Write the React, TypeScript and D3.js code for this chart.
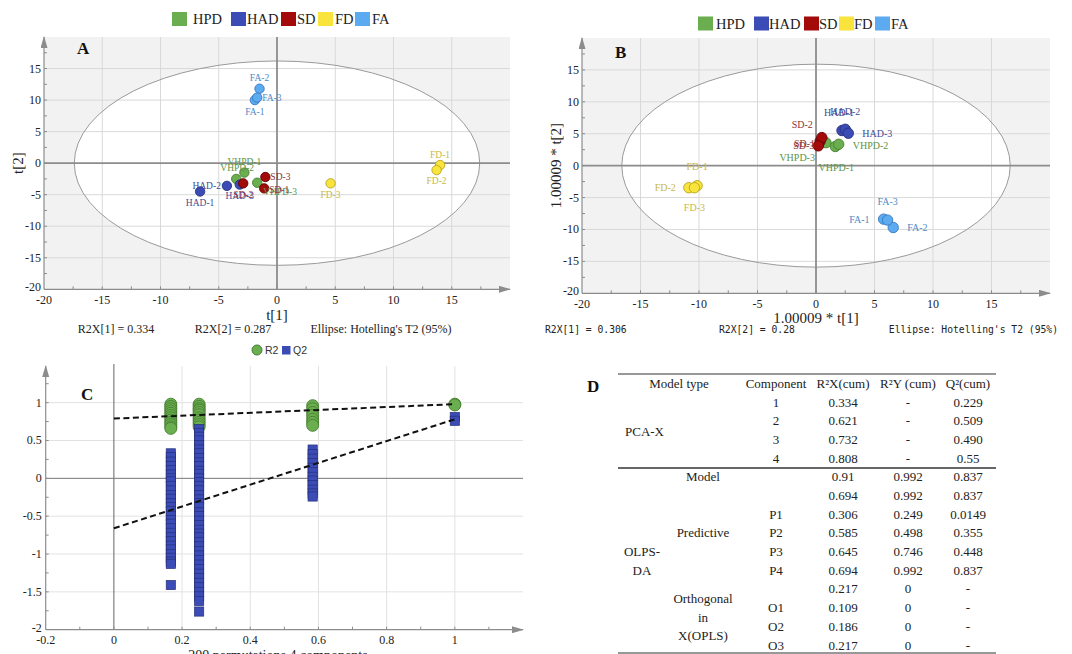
import React, { useRef, useEffect } from 'react';
import * as d3 from 'd3';

const W = 1072;
const H = 654;
const SERIF = '"Liberation Serif", "Times New Roman", serif';
const SANS = '"Liberation Sans", Arial, sans-serif';
const MONO = '"DejaVu Sans Mono", "Liberation Mono", monospace';

// groups (legend order)
const groupNames = ['HPD', 'HAD', 'SD', 'FD', 'FA'];
const groupFill = ['#6aae4f', '#3b4cb6', '#a30b0b', '#f8e43d', '#5caaf0'];
const groupStroke = ['#477f31', '#27327f', '#620202', '#b9a41e', '#3879bd'];
const groupText = ['#5c9444', '#3f4b94', '#903131', '#c9b845', '#4f89c7'];

// samples, shared by A and B
const sampleNames = ['VHPD-1', 'VHPD-2', 'VHPD-3', 'HAD-1', 'HAD-2', 'HAD-3', 'SD-1', 'SD-2', 'SD-3', 'FD-1', 'FD-2', 'FD-3', 'FA-1', 'FA-2', 'FA-3'];
const sampleGroup = [0, 0, 0, 1, 1, 1, 2, 2, 2, 3, 3, 3, 4, 4, 4];

// A: PCA-X scores
const pcaT1 = [-2.8, -3.5, -1.7, -6.6, -4.3, -3.2, -1.1, -2.9, -1.0, 14.0, 13.7, 4.6, -1.9, -1.5, -1.7];
const pcaT2 = [-1.5, -2.5, -3.1, -4.5, -3.6, -3.4, -4.0, -3.2, -2.2, -0.3, -1.1, -3.2, 10.0, 11.8, 10.4];
const pcaEllipse = [17.4, 16.2];
const pcaFooter = ['R2X[1] = 0.334', 'R2X[2] = 0.287', "Ellipse: Hotelling's T2 (95%)"];

// B: OPLS-DA scores
const oplsT1 = [1.65, 1.94, 0.85, 2.22, 2.5, 2.76, 0.35, 0.5, 0.2, -10.16, -10.87, -10.39, 5.78, 6.6, 6.12];
const oplsT2 = [3.0, 3.35, 3.6, 5.5, 5.7, 5.08, 3.8, 4.4, 3.1, -3.14, -3.46, -3.46, -8.38, -9.69, -8.53];
const oplsEllipse = [16.6, 15.9];
const oplsFooter = ['R2X[1] = 0.306', 'R2X[2] = 0.28', "Ellipse: Hotelling's T2 (95%)"];

const scoreTicks = [-20, -15, -10, -5, 0, 5, 10, 15];

// C: permutation test (200 permutations, 4 components)
const permCorr = [0.167, 0.25, 0.583, 1];
const permR2 = [
  [0.98, 0.95, 0.92, 0.89, 0.86, 0.83, 0.8, 0.77, 0.74, 0.71, 0.68, 0.66],
  [0.98, 0.95, 0.92, 0.9, 0.87, 0.84, 0.8, 0.77, 0.74, 0.71, 0.68],
  [0.96, 0.92, 0.87, 0.83, 0.78, 0.74, 0.7],
  [0.98, 0.97],
];
const permQ2 = [
  [0.33, 0.28, 0.22, 0.16, 0.11, 0.05, 0.0, -0.04, -0.1, -0.16, -0.22, -0.27, -0.33, -0.38, -0.43, -0.5, -0.55, -0.6, -0.66, -0.72, -0.78, -0.83, -0.89, -0.94, -1.0, -1.05, -1.1, -1.13, -1.41],
  [0.65, 0.6, 0.55, 0.5, 0.44, 0.38, 0.33, 0.27, 0.21, 0.16, 0.1, 0.06, 0.0, -0.05, -0.1, -0.16, -0.22, -0.28, -0.33, -0.38, -0.45, -0.5, -0.56, -0.62, -0.68, -0.73, -0.78, -0.84, -0.9, -0.96, -1.02, -1.08, -1.14, -1.2, -1.26, -1.32, -1.38, -1.44, -1.5, -1.56, -1.62, -1.76],
  [0.38, 0.32, 0.26, 0.2, 0.14, 0.08, 0.02, -0.03, -0.09, -0.15, -0.2, -0.24],
  [0.81, 0.76],
];
const r2Fit = [0.79, 0.98]; // at corr 0 and 1
const q2Fit = [-0.66, 0.78];
const permXTicks = [-0.2, 0, 0.2, 0.4, 0.6, 0.8, 1];
const permYTicks = [1, 0.5, 0, -0.5, -1, -1.5, -2];

// D: model summary table
const tableHeader = ['Model type', 'Component', 'R²X(cum)', 'R²Y (cum)', 'Q²(cum)'];
const tableComponent = ['1', '2', '3', '4', '', '', 'P1', 'P2', 'P3', 'P4', '', 'O1', 'O2', 'O3'];
const tableR2X = ['0.334', '0.621', '0.732', '0.808', '0.91', '0.694', '0.306', '0.585', '0.645', '0.694', '0.217', '0.109', '0.186', '0.217'];
const tableR2Y = ['-', '-', '-', '-', '0.992', '0.992', '0.249', '0.498', '0.746', '0.992', '0', '0', '0', '0'];
const tableQ2 = ['0.229', '0.509', '0.490', '0.55', '0.837', '0.837', '0.0149', '0.355', '0.448', '0.837', '-', '-', '-', '-'];

// label placement [dx, dy, anchor] in px, per sample
type Off = [number, number, string];
const labelOffA: Off[] = [
  [0, -11, 'middle'], [1, -11, 'middle'], [6, 9, 'start'],
  [0, 11, 'middle'], [-6, 0, 'end'], [0, 11, 'middle'],
  [5, 1, 'start'], [0, 11, 'middle'], [5, 0, 'start'],
  [0, -10, 'middle'], [0, 11, 'middle'], [0, 11, 'middle'],
  [0, 12, 'middle'], [0, -11, 'middle'], [5, 0, 'start'],
];
const labelOffB: Off[] = [
  [1, 21, 'middle'], [14, 1, 'start'], [-11, 15, 'end'],
  [-3, -18, 'middle'], [0, -18, 'middle'], [14, 0, 'start'],
  [-5, 2, 'end'], [-9, -13, 'end'], [-4, 0, 'end'],
  [0, -19, 'middle'], [-13, 0, 'end'], [0, 20, 'middle'],
  [-14, 0, 'end'], [14, 0, 'start'], [0, -19, 'middle'],
];

type G = d3.Selection<SVGGElement, unknown, null, undefined>;
const AXIS = '#8c8c8c';

const drawScores = (
  g: G,
  x: d3.ScaleLinear<number, number>,
  y: d3.ScaleLinear<number, number>,
  t1: number[],
  t2: number[],
  ell: number[],
  offs: Off[],
  r: number,
  fs: number,
) => {
  const [xl, xr] = x.range();
  const [yb, yt] = y.range();
  g.append('rect').attr('x', xl).attr('y', yt).attr('width', xr - xl).attr('height', yb - yt).attr('fill', '#f2f2f2');
  g.append('ellipse').attr('cx', x(0)).attr('cy', y(0))
    .attr('rx', x(ell[0]) - x(0)).attr('ry', y(0) - y(ell[1])).attr('fill', '#fff');

  const grid = scoreTicks.filter(d => d !== 0 && d !== -20);
  g.selectAll(null).data(grid).enter().append('line')
    .attr('x1', d => x(d)).attr('x2', d => x(d)).attr('y1', yt).attr('y2', yb)
    .attr('stroke', '#d9d9d9').attr('stroke-width', 1);
  g.selectAll(null).data(grid).enter().append('line')
    .attr('x1', xl).attr('x2', xr).attr('y1', d => y(d)).attr('y2', d => y(d))
    .attr('stroke', '#d9d9d9').attr('stroke-width', 1);

  g.append('ellipse').attr('cx', x(0)).attr('cy', y(0))
    .attr('rx', x(ell[0]) - x(0)).attr('ry', y(0) - y(ell[1]))
    .attr('fill', 'none').attr('stroke', '#9a9a9a').attr('stroke-width', 1);

  // zero lines
  g.append('line').attr('x1', x(0)).attr('x2', x(0)).attr('y1', yt).attr('y2', yb).attr('stroke', AXIS).attr('stroke-width', 1.8);
  g.append('line').attr('x1', xl).attr('x2', xr).attr('y1', y(0)).attr('y2', y(0)).attr('stroke', AXIS).attr('stroke-width', 1.8);

  // axes with arrows
  g.append('line').attr('x1', xl).attr('x2', xl).attr('y1', yb).attr('y2', yt)
    .attr('stroke', AXIS).attr('stroke-width', 1.2).attr('marker-end', 'url(#arr)');
  g.append('line').attr('x1', xl).attr('x2', xr).attr('y1', yb).attr('y2', yb)
    .attr('stroke', AXIS).attr('stroke-width', 1.2).attr('marker-end', 'url(#arr)');

  const minor = d3.range(-17.5, 18, 2.5);
  g.selectAll(null).data(minor).enter().append('line')
    .attr('x1', d => x(d)).attr('x2', d => x(d)).attr('y1', yb).attr('y2', yb - 3)
    .attr('stroke', AXIS);
  g.selectAll(null).data(minor).enter().append('line')
    .attr('x1', xl).attr('x2', xl + 3).attr('y1', d => y(d)).attr('y2', d => y(d))
    .attr('stroke', AXIS);

  // tick labels
  g.selectAll(null).data(scoreTicks).enter().append('text')
    .attr('x', d => x(d)).attr('y', yb + 15)
    .attr('text-anchor', 'middle').attr('font-family', SERIF).attr('font-size', 12).attr('fill', '#222')
    .text(d => d);
  g.selectAll(null).data(scoreTicks).enter().append('text')
    .attr('x', xl - 3).attr('y', d => y(d) + (d === -20 ? 2 : 4))
    .attr('text-anchor', 'end').attr('font-family', SERIF).attr('font-size', 12).attr('fill', '#222')
    .text(d => d);

  // points
  const idx = d3.range(t1.length);
  g.selectAll(null).data(idx).enter().append('circle')
    .attr('cx', i => x(t1[i])).attr('cy', i => y(t2[i])).attr('r', r)
    .attr('fill', i => groupFill[sampleGroup[i]])
    .attr('stroke', i => groupStroke[sampleGroup[i]]).attr('stroke-width', 0.9);

  g.selectAll(null).data(idx).enter().append('text')
    .attr('x', i => x(t1[i]) + offs[i][0]).attr('y', i => y(t2[i]) + offs[i][1])
    .attr('dy', '0.35em')
    .attr('text-anchor', i => offs[i][2])
    .attr('font-family', SERIF).attr('font-size', fs)
    .attr('fill', i => groupText[sampleGroup[i]])
    .text(i => sampleNames[i]);
};

const drawLegend = (g: G, boxX: number[], textX: number[], cy: number) => {
  groupNames.forEach((name, i) => {
    g.append('rect').attr('x', boxX[i]).attr('y', cy - 7).attr('width', 15).attr('height', 14).attr('fill', groupFill[i]);
    g.append('text').attr('x', textX[i]).attr('y', cy + 5)
      .attr('font-family', SERIF).attr('font-size', 14.5).attr('fill', '#222').text(name);
  });
};

const App: React.FC = () => {
  const svgRef = useRef<SVGSVGElement>(null);

  useEffect(() => {
    if (!svgRef.current) return;
    const svg = d3.select(svgRef.current);
    svg.selectAll('*').remove();
    svg.append('rect').attr('width', W).attr('height', H).attr('fill', '#fff');

    svg.append('defs').append('marker')
      .attr('id', 'arr').attr('markerUnits', 'userSpaceOnUse')
      .attr('viewBox', '0 0 12 7').attr('markerWidth', 12).attr('markerHeight', 7)
      .attr('refX', 11).attr('refY', 3.5).attr('orient', 'auto')
      .append('path').attr('d', 'M0,0L12,3.5L0,7Z').attr('fill', AXIS);

    // ---------- Panel A ----------
    const gA = svg.append('g');
    const xA = d3.scaleLinear().domain([-20, 20]).range([44, 510]);
    const yA = d3.scaleLinear().domain([-20, 20]).range([289.3, 37]);
    drawLegend(gA, [172, 231, 281, 318, 355], [193, 247, 297, 335, 372], 19);
    drawScores(gA, xA, yA, pcaT1, pcaT2, pcaEllipse, labelOffA, 4.7, 9.5);
    gA.append('text').attr('x', 77).attr('y', 54).attr('font-family', SERIF).attr('font-weight', 'bold')
      .attr('font-size', 17).attr('fill', '#111').text('A');
    gA.append('text').attr('x', xA(0)).attr('y', 320).attr('text-anchor', 'middle')
      .attr('font-family', SERIF).attr('font-size', 15).attr('fill', '#222').text('t[1]');
    gA.append('text').attr('transform', `translate(23,${yA(0)}) rotate(-90)`).attr('text-anchor', 'middle')
      .attr('font-family', SERIF).attr('font-size', 15).attr('fill', '#222').text('t[2]');
    [116, 233, 381].forEach((cx, i) => {
      gA.append('text').attr('x', cx).attr('y', 333).attr('text-anchor', 'middle')
        .attr('font-family', SERIF).attr('font-size', 12).attr('fill', '#222').text(pcaFooter[i]);
    });

    // ---------- Panel B ----------
    const gB = svg.append('g');
    const xB = d3.scaleLinear().domain([-20, 20]).range([582, 1050]);
    const yB = d3.scaleLinear().domain([-20, 20]).range([293.3, 38]);
    drawLegend(gB, [698, 754, 804, 839, 875], [716, 769, 819, 854, 891], 23.5);
    drawScores(gB, xB, yB, oplsT1, oplsT2, oplsEllipse, labelOffB, 5.2, 10);
    gB.append('text').attr('x', 615).attr('y', 58).attr('font-family', SERIF).attr('font-weight', 'bold')
      .attr('font-size', 17).attr('fill', '#111').text('B');
    gB.append('text').attr('x', xB(0)).attr('y', 323).attr('text-anchor', 'middle')
      .attr('font-family', SERIF).attr('font-size', 15).attr('fill', '#222').text('1.00009 * t[1]');
    gB.append('text').attr('transform', `translate(561,${yB(0)}) rotate(-90)`).attr('text-anchor', 'middle')
      .attr('font-family', SERIF).attr('font-size', 15).attr('fill', '#222').text('1.00009 * t[2]');
    gB.append('text').attr('x', 545).attr('y', 333).attr('font-family', MONO).attr('font-size', 9.7)
      .attr('fill', '#222').text(oplsFooter[0]);
    gB.append('text').attr('x', 719).attr('y', 333).attr('font-family', MONO).attr('font-size', 9.7)
      .attr('fill', '#222').text(oplsFooter[1]);
    gB.append('text').attr('x', 1058).attr('y', 333).attr('text-anchor', 'end').attr('font-family', MONO)
      .attr('font-size', 9.7).attr('fill', '#222').text(oplsFooter[2]);

    // ---------- Panel C ----------
    const gC = svg.append('g');
    const xC = d3.scaleLinear().domain([-0.2, 1.2]).range([45.7, 523]);
    const yC = d3.scaleLinear().domain([-2, 1.5]).range([629.7, 364.8]);
    const [cl, cr] = xC.range();
    const [cb] = yC.range();
    const ctop = 366;

    gC.selectAll(null).data(permXTicks.filter(d => d > 0)).enter().append('line')
      .attr('x1', d => xC(d)).attr('x2', d => xC(d)).attr('y1', ctop).attr('y2', cb)
      .attr('stroke', '#e2e2e2');
    gC.selectAll(null).data(permYTicks.filter(d => d !== 0 && d !== -2)).enter().append('line')
      .attr('x1', cl).attr('x2', cr).attr('y1', d => yC(d)).attr('y2', d => yC(d))
      .attr('stroke', '#e2e2e2');
    gC.append('line').attr('x1', xC(0)).attr('x2', xC(0)).attr('y1', 364).attr('y2', cb).attr('stroke', '#666');
    gC.append('line').attr('x1', cl).attr('x2', cr).attr('y1', yC(0)).attr('y2', yC(0)).attr('stroke', '#777');
    gC.append('line').attr('x1', cl).attr('x2', cl).attr('y1', cb).attr('y2', ctop)
      .attr('stroke', AXIS).attr('stroke-width', 1.2).attr('marker-end', 'url(#arr)');
    gC.append('line').attr('x1', cl).attr('x2', cr).attr('y1', cb).attr('y2', cb)
      .attr('stroke', AXIS).attr('stroke-width', 1.2).attr('marker-end', 'url(#arr)');
    gC.selectAll(null).data(d3.range(-0.1, 1.15, 0.1)).enter().append('line')
      .attr('x1', d => xC(d)).attr('x2', d => xC(d)).attr('y1', cb).attr('y2', cb - 3).attr('stroke', AXIS);
    gC.selectAll(null).data(d3.range(-1.75, 1.4, 0.25)).enter().append('line')
      .attr('x1', cl).attr('x2', cl + 3).attr('y1', d => yC(d)).attr('y2', d => yC(d)).attr('stroke', AXIS);

    gC.selectAll(null).data(permXTicks).enter().append('text')
      .attr('x', d => xC(d)).attr('y', cb + 14).attr('text-anchor', 'middle')
      .attr('font-family', SERIF).attr('font-size', 12).attr('fill', '#222').text(d => d);
    gC.selectAll(null).data(permYTicks).enter().append('text')
      .attr('x', cl - 4).attr('y', d => yC(d) + (d === -2 ? 2 : 4)).attr('text-anchor', 'end')
      .attr('font-family', SERIF).attr('font-size', 12).attr('fill', '#222').text(d => d);

    const r2Pts = permCorr.flatMap((c, i) => permR2[i].map(v => [c, v]));
    const q2Pts = permCorr.flatMap((c, i) => permQ2[i].map(v => [c, v]));
    gC.selectAll(null).data(r2Pts).enter().append('circle')
      .attr('cx', d => xC(d[0])).attr('cy', d => yC(d[1])).attr('r', 6)
      .attr('fill', '#6aae4f').attr('stroke', '#477f31').attr('stroke-width', 0.9);
    gC.selectAll(null).data(q2Pts).enter().append('rect')
      .attr('x', d => xC(d[0]) - 4.6).attr('y', d => yC(d[1]) - 4.6).attr('width', 9.2).attr('height', 9.2)
      .attr('fill', '#3b4cb6').attr('stroke', '#27307a').attr('stroke-width', 0.7);

    const fitLine = d3.line<number>().x((_, i) => xC(i)).y(d => yC(d));
    [r2Fit, q2Fit].forEach(f => {
      gC.append('path').attr('d', fitLine(f) as string).attr('fill', 'none')
        .attr('stroke', '#111').attr('stroke-width', 2).attr('stroke-dasharray', '6,3.5');
    });

    gC.append('text').attr('x', 81).attr('y', 400).attr('font-family', SERIF).attr('font-weight', 'bold')
      .attr('font-size', 17).attr('fill', '#111').text('C');
    gC.append('circle').attr('cx', 257).attr('cy', 350).attr('r', 5).attr('fill', '#6aae4f').attr('stroke', '#477f31');
    gC.append('text').attr('x', 265).attr('y', 354).attr('font-family', SANS).attr('font-size', 10.5).attr('fill', '#333').text('R2');
    gC.append('rect').attr('x', 282).attr('y', 346).attr('width', 8.5).attr('height', 8.5).attr('fill', '#3b4cb6');
    gC.append('text').attr('x', 293).attr('y', 354).attr('font-family', SANS).attr('font-size', 10.5).attr('fill', '#333').text('Q2');
    gC.append('text').attr('x', 278).attr('y', 660).attr('text-anchor', 'middle')
      .attr('font-family', SERIF).attr('font-size', 14).attr('fill', '#222').text('200 permutations 4 components');

    // ---------- Panel D ----------
    const gD = svg.append('g').attr('font-family', SERIF).attr('font-size', 13).attr('fill', '#222');
    const colX = [679, 776, 843, 908, 968];
    const rowY = d3.scaleLinear().domain([0, tableR2X.length - 1]).range([402, 645]);
    gD.append('text').attr('x', 587).attr('y', 392).attr('font-weight', 'bold').attr('font-size', 17)
      .attr('fill', '#111').text('D');
    gD.append('line').attr('x1', 618).attr('x2', 996).attr('y1', 374).attr('y2', 374).attr('stroke', '#333').attr('stroke-width', 1.2);
    gD.append('line').attr('x1', 618).attr('x2', 996).attr('y1', 468).attr('y2', 468).attr('stroke', '#333').attr('stroke-width', 1.5);
    gD.append('line').attr('x1', 618).attr('x2', 996).attr('y1', 653).attr('y2', 653).attr('stroke', '#333').attr('stroke-width', 1.2);
    gD.selectAll(null).data(tableHeader).enter().append('text')
      .attr('x', (_, i) => colX[i]).attr('y', 383).attr('dy', '0.35em').attr('text-anchor', 'middle')
      .text(d => d);
    [tableComponent, tableR2X, tableR2Y, tableQ2].forEach((col, c) => {
      gD.selectAll(null).data(col).enter().append('text')
        .attr('x', colX[c + 1]).attr('y', (_, i) => rowY(i)).attr('dy', '0.35em').attr('text-anchor', 'middle')
        .text(d => d);
    });
    const modelLabels: [string, number, number, string][] = [
      ['PCA-X', 625, 1.55, 'start'],
      ['Model', 703, 4, 'middle'],
      ['Predictive', 703, 7, 'middle'],
      ['OLPS-', 642, 8, 'middle'],
      ['DA', 642, 9, 'middle'],
      ['Orthogonal', 703, 10.5, 'middle'],
      ['in', 703, 11.5, 'middle'],
      ['X(OPLS)', 703, 12.5, 'middle'],
    ];
    modelLabels.forEach(([t, lx, ri, anchor]) => {
      gD.append('text').attr('x', lx).attr('y', rowY(ri)).attr('dy', '0.35em').attr('text-anchor', anchor).text(t);
    });
  }, []);

  return (
    <svg
      ref={svgRef}
      width={W}
      height={H}
      style={{ position: 'absolute', left: 0, top: 0, display: 'block' }}
    />
  );
};

export default App;
